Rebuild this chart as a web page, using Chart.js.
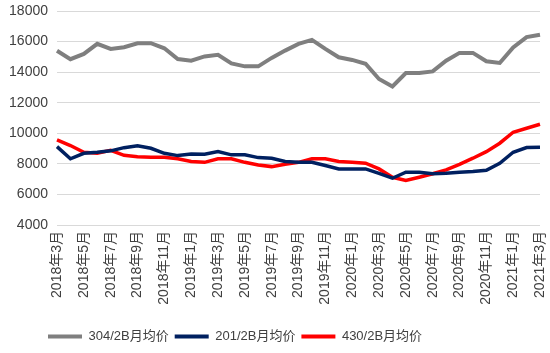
<!DOCTYPE html>
<html>
<head>
<meta charset="utf-8">
<script src="https://cdn.jsdelivr.net/npm/chart.js@4"></script>
<style>
  body { margin: 0; background: #fff; }
  #wrap { width: 550px; height: 353px; }
</style>
</head>
<body>
<div id="wrap"><canvas id="chart" width="550" height="353"></canvas></div>
<script>
// months, one per data point
const months = [
  '2018年3月','2018年4月','2018年5月','2018年6月','2018年7月','2018年8月','2018年9月','2018年10月','2018年11月','2018年12月',
  '2019年1月','2019年2月','2019年3月','2019年4月','2019年5月','2019年6月','2019年7月','2019年8月','2019年9月','2019年10月',
  '2019年11月','2019年12月','2020年1月','2020年2月','2020年3月','2020年4月','2020年5月','2020年6月','2020年7月','2020年8月',
  '2020年9月','2020年10月','2020年11月','2020年12月','2021年1月','2021年2月','2021年3月'
];

const seriesNames = ['304/2B月均价', '201/2B月均价', '430/2B月均价'];

const price304 = [15400,14850,15190,15850,15520,15630,15890,15890,15560,14860,14750,15030,15130,14570,14380,14380,14930,15410,15850,16110,15520,14970,14800,14550,13550,13060,13940,13940,14050,14750,15260,15260,14710,14600,15620,16290,16450];
const price201 = [9130,8330,8690,8760,8850,9060,9190,9020,8690,8540,8650,8630,8800,8590,8590,8410,8370,8150,8100,8100,7890,7670,7670,7670,7380,7060,7450,7450,7350,7380,7450,7500,7580,8040,8760,9070,9090];
const price430 = [9570,9200,8760,8700,8880,8560,8470,8430,8430,8330,8150,8100,8330,8330,8100,7930,7820,7970,8100,8330,8330,8150,8100,8040,7670,7120,6910,7120,7350,7610,7970,8370,8800,9350,10070,10330,10590];

const yMin = 4000, yMax = 18000, yStep = 2000;

const fontFamily = "'Liberation Sans', 'Noto Sans CJK SC', sans-serif";
const textColor = '#404040';

function lineSet(label, data, color, width) {
  return {
    label: label,
    data: data,
    borderColor: color,
    backgroundColor: color,
    borderWidth: width,
    pointRadius: 0,
    tension: 0,
    fill: false
  };
}

// nudge the legend so it starts where the original one does
const legendShift = {
  id: 'legendShift',
  afterLayout(chart) {
    chart.legend.left = 42;
  }
};

const chart = new Chart(document.getElementById('chart'), {
  type: 'line',
  data: {
    labels: months,
    datasets: [
      lineSet(seriesNames[0], price304, '#7f7f7f', 4),
      lineSet(seriesNames[1], price201, '#002060', 3.5),
      lineSet(seriesNames[2], price430, '#ff0000', 3.5)
    ]
  },
  options: {
    responsive: false,
    animation: false,
    layout: { padding: { top: 11, right: 10, bottom: 0, left: 0 } },
    scales: {
      x: {
        offset: false,
        grid: { display: false, drawTicks: false },
        border: { display: false },
        ticks: {
          autoSkip: false,
          minRotation: 90,
          maxRotation: 90,
          padding: 6,
          color: textColor,
          font: { family: fontFamily, size: 14 },
          callback: function(value, index) {
            return index % 2 === 0 ? this.getLabelForValue(value) : '';
          }
        },
        afterFit(scale) {
          scale.height = 99;
          scale.paddingLeft = 0;
          scale.paddingRight = 0;
        }
      },
      y: {
        min: yMin,
        max: yMax,
        grid: { color: '#d9d9d9', lineWidth: 1, drawTicks: false },
        border: { display: false },
        ticks: {
          stepSize: yStep,
          padding: 9,
          color: textColor,
          font: { family: fontFamily, size: 14 },
          callback: (v) => String(v)
        },
        afterFit(scale) {
          scale.width = 57;
          scale.paddingTop = 0;
          scale.paddingBottom = 0;
        }
      }
    },
    plugins: {
      title: { display: false },
      tooltip: { enabled: false },
      legend: {
        position: 'bottom',
        align: 'start',
        labels: {
          boxWidth: 34,
          boxHeight: 4,
          padding: 6,
          color: textColor,
          font: { family: fontFamily, size: 13 },
          generateLabels(chart) {
            return Chart.defaults.plugins.legend.labels.generateLabels(chart).map(l => {
              l.lineWidth = 0;
              l.fillStyle = l.strokeStyle;
              return l;
            });
          }
        }
      }
    }
  },
  plugins: [legendShift]
});
</script>
</body>
</html>
